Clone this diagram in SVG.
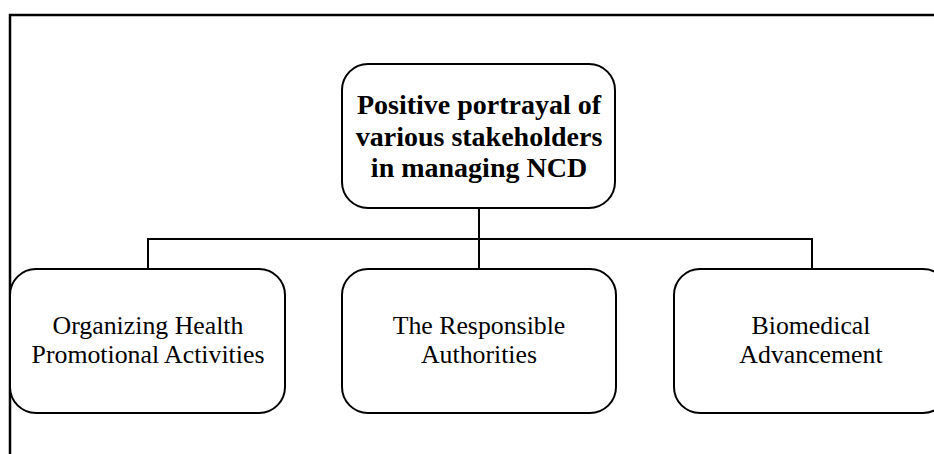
<svg xmlns="http://www.w3.org/2000/svg" width="934" height="454" viewBox="0 0 934 454">
<style>
.box{fill:#fff;stroke:#000;stroke-width:2}
.conn{fill:none;stroke:#000;stroke-width:2}
.t{font-family:"Liberation Serif","Times New Roman",serif;fill:#000;text-anchor:middle}
.b{font-weight:bold;font-size:28px}
.r{font-size:25.8px}
</style>
<rect x="0" y="0" width="934" height="454" fill="#fff"/>
<path d="M10,454 V15 H934" fill="none" stroke="#000" stroke-width="2.5"/>
<g id="connectors">
<path class="conn" d="M479,208 V269"/>
<path class="conn" d="M148,269 V239 H812 V269"/>
</g>
<g id="root">
<rect class="box" x="342" y="64" width="273" height="144" rx="26"/>
<text class="t b" x="479" y="114">Positive portrayal of</text>
<text class="t b" x="479" y="146">various stakeholders</text>
<text class="t b" x="479" y="177">in managing NCD</text>
</g>
<g id="n1">
<rect class="box" x="10" y="269" width="275" height="144" rx="26"/>
<text class="t r" x="148" y="334">Organizing Health</text>
<text class="t r" x="148" y="363">Promotional Activities</text>
</g>
<g id="n2">
<rect class="box" x="342" y="269" width="274" height="144" rx="26"/>
<text class="t r" x="479" y="334">The Responsible</text>
<text class="t r" x="479" y="363">Authorities</text>
</g>
<g id="n3">
<rect class="box" x="674" y="269" width="275" height="144" rx="26"/>
<text class="t r" x="811" y="334">Biomedical</text>
<text class="t r" x="811" y="363">Advancement</text>
</g>
</svg>
